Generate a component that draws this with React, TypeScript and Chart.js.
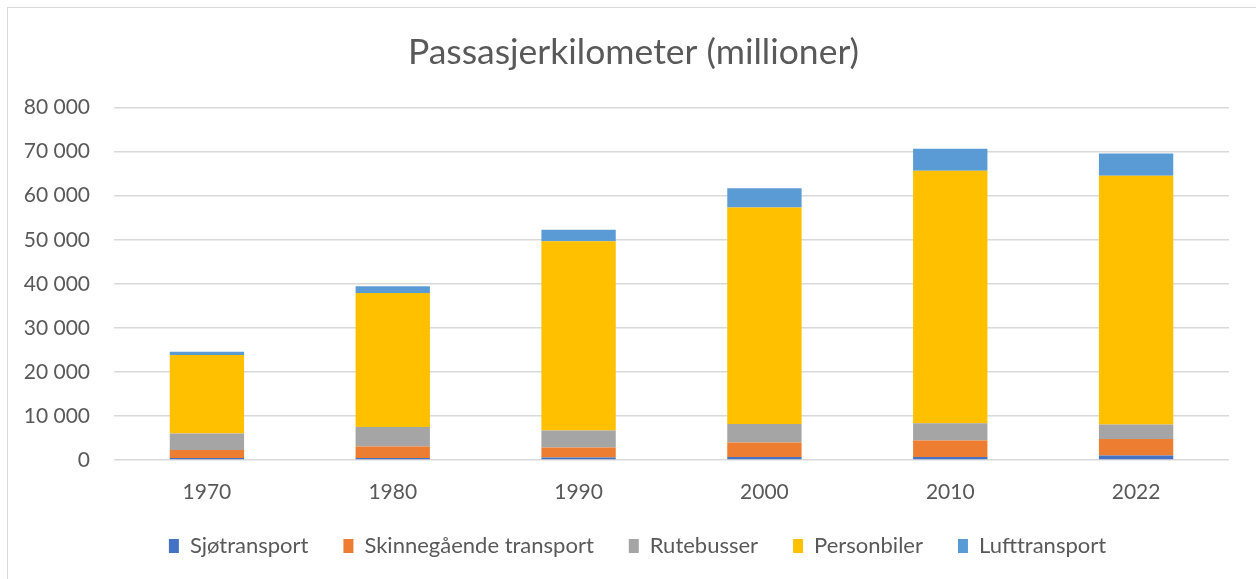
import React, { useEffect, useRef } from "react";
import { Chart, registerables } from "chart.js";

Chart.register(...registerables);

const years = ["1970", "1980", "1990", "2000", "2010", "2022"];
const sjotransport = [450, 450, 550, 680, 680, 1040];
const skinnegaende = [1810, 2630, 2300, 3300, 3750, 3710];
const rutebusser = [3760, 4390, 3850, 4170, 3940, 3300];
const personbiler = [17800, 30450, 42980, 49160, 57310, 56500];
const lufttransport = [750, 1510, 2580, 4360, 4980, 5040];

const FONT = "Lato, 'Open Sans', sans-serif";
const TEXT = "#595959";

function fmt(v: number) {
  return String(v).replace(/\B(?=(\d{3})+(?!\d))/g, " ");
}

const shiftPlugin = {
  id: "shiftBlocks",
  afterLayout(chart: any) {
    if (chart.legend) {
      chart.legend.left += 23;
      chart.legend.right += 23;
    }
    if (chart.titleBlock) {
      chart.titleBlock.left += 19;
      chart.titleBlock.right += 19;
    }
  },
};

export default function App() {
  const ref = useRef<HTMLCanvasElement | null>(null);
  useEffect(() => {
    if (!ref.current) return;
    const ds = (label: string, data: number[], color: string) => ({
      label,
      data,
      backgroundColor: color,
      borderWidth: 0,
      barPercentage: 1,
      categoryPercentage: 0.4,
    });
    const chart = new Chart(ref.current, {
      type: "bar",
      data: {
        labels: years,
        datasets: [
          ds("Sjøtransport", sjotransport, "#4472C4"),
          ds("Skinnegående transport", skinnegaende, "#ED7D31"),
          ds("Rutebusser", rutebusser, "#A5A5A5"),
          ds("Personbiler", personbiler, "#FFC000"),
          ds("Lufttransport", lufttransport, "#5B9BD5"),
        ],
      },
      plugins: [shiftPlugin],
      options: {
        animation: false,
        responsive: false,
        maintainAspectRatio: false,
        layout: { padding: { left: 0, right: 27, top: 0, bottom: 12 } },
        plugins: {
          title: {
            display: true,
            text: "Passasjerkilometer (millioner)",
            color: TEXT,
            font: { family: FONT, size: 35.5, weight: "normal" },
            padding: { top: 31, bottom: 34 },
          },
          legend: {
            position: "bottom",
            labels: {
              color: TEXT,
              font: { family: FONT, size: 22 },
              boxWidth: 10,
              boxHeight: 14,
              padding: 35,
            },
          },
          tooltip: { enabled: false },
        },
        scales: {
          x: {
            stacked: true,
            grid: { display: false, drawTicks: false },
            border: { display: false },
            ticks: { color: TEXT, font: { family: FONT, size: 21 }, padding: 20 },
            afterFit: (s: any) => {
              s.height = 40;
            },
          },
          y: {
            stacked: true,
            min: 0,
            max: 80000,
            grid: { color: "#d9d9d9", lineWidth: 1.5, drawTicks: false },
            border: { display: false },
            ticks: {
              stepSize: 10000,
              color: TEXT,
              font: { family: FONT, size: 21 },
              padding: 24,
              callback: (v: any) => fmt(Number(v)),
            },
            afterFit: (s: any) => {
              s.width = 114;
            },
          },
        },
      },
    });
    return () => chart.destroy();
  }, []);
  return (
    <div style={{ position: "fixed", left: 0, top: 0, width: 1256, height: 579, background: "#fff", overflow: "hidden" }}>
      <div style={{ position: "absolute", left: 7, top: 7, width: 1260, height: 590, border: "1px solid #d9d9d9", boxSizing: "border-box" }} />
      <canvas ref={ref} width={1256} height={579} style={{ position: "absolute", left: 0, top: 0 }} />
    </div>
  );
}
